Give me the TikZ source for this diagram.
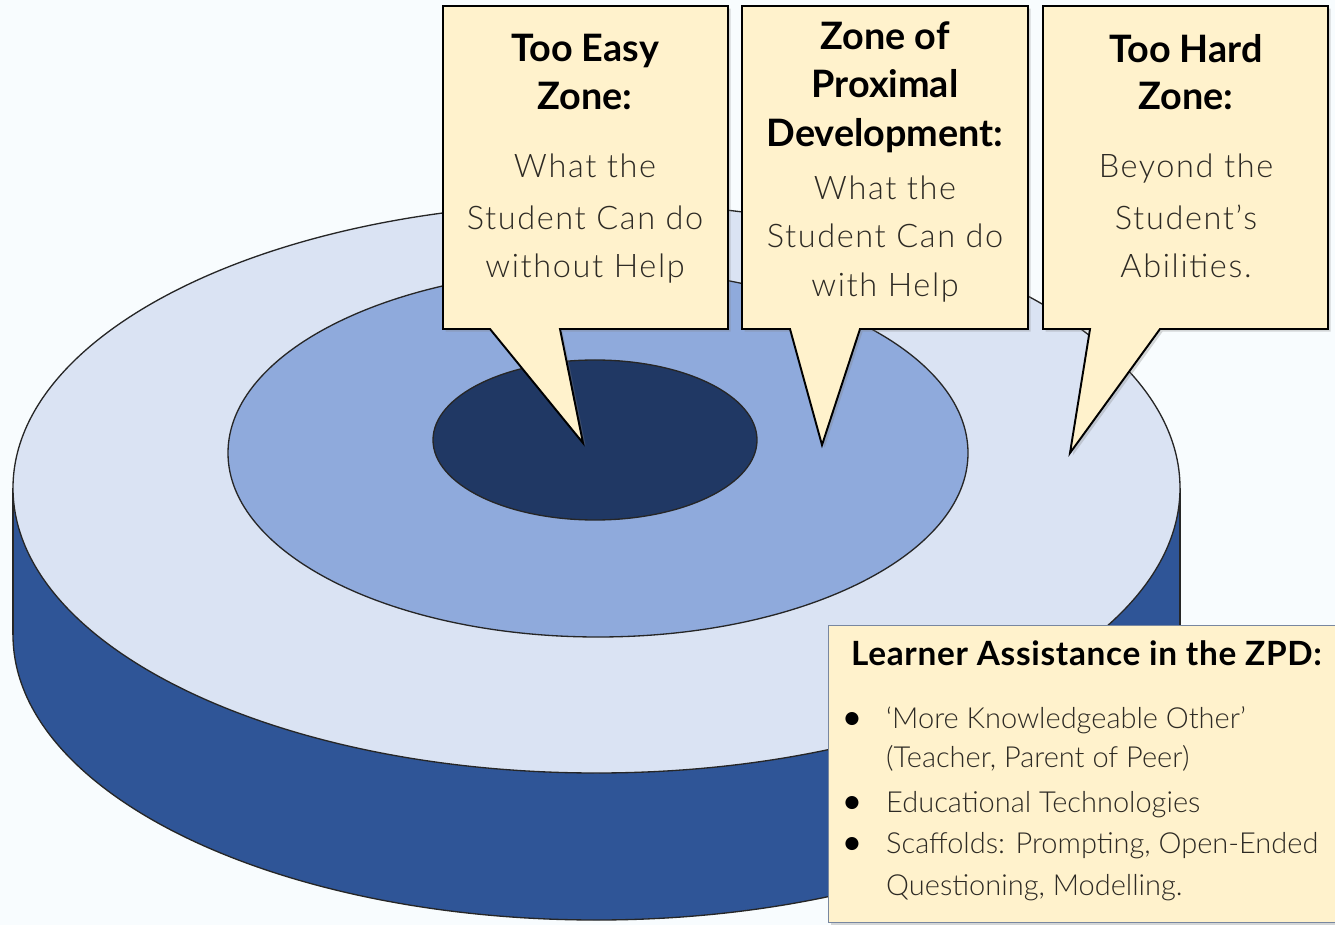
\documentclass[tikz,border=0pt]{standalone}
\usepackage{fontspec}
\setmainfont{Lato}
\newfontfamily\lightfont{Lato Light}[LetterSpace=5]
\newfontfamily\itemfont{Lato Light}
\newfontfamily\titlefont{Lato}[LetterSpace=2]
\usetikzlibrary{shadows}

\definecolor{paper}{RGB}{248,252,254}
\definecolor{ringlight}{RGB}{218,227,243}
\definecolor{ringmid}{RGB}{143,170,220}
\definecolor{ringdark}{RGB}{32,56,100}
\definecolor{sideblue}{RGB}{47,85,151}
\definecolor{cream}{RGB}{255,242,204}
\definecolor{bodygrey}{RGB}{45,42,36}
\definecolor{edgegrey}{RGB}{120,135,160}

\begin{document}
\begin{tikzpicture}[x=0.02cm, y=-0.02cm,
	disk/.style={draw=black!85, line width=0.75pt},
	callout/.style={draw=black, line width=1.1pt, fill=cream, line join=miter,
		drop shadow={shadow xshift=1.5pt, shadow yshift=-1.5pt, opacity=0.3}},
	head/.style={anchor=base, font=\fontsize{21.5}{26}\selectfont\bfseries},
	body/.style={anchor=base, font=\fontsize{18.5}{22}\lightfont, text=bodygrey},
	infobox/.style={draw=edgegrey, line width=0.8pt, fill=cream, anchor=north west,
		drop shadow={shadow xshift=1.5pt, shadow yshift=-1.5pt, opacity=0.3},
		minimum width=10.5cm, minimum height=5.94cm},
	item/.style={anchor=base west, font=\fontsize{16.5}{20}\itemfont, text=bodygrey},
	dot/.style={anchor=base, inner sep=0pt, font=\fontsize{20}{20}\selectfont}]

		% page
		\clip (0,0) rectangle (1335,925);
		\fill[paper] (0,0) rectangle (1335,925);

		% cylinder side
		\draw[disk, fill=sideblue] (596.5,635) ellipse [x radius=583.5, y radius=285];
		\fill[sideblue] (13,488) rectangle (1180,635);
		\foreach \x in {13,1180}
			\draw[disk] (\x,488) -- (\x,635);

		% rings on top
		\draw[disk, fill=ringlight] (596.5,488) ellipse [x radius=583.5, y radius=285];
		\draw[disk, fill=ringmid] (598,453) ellipse [x radius=370, y radius=184];
		\draw[disk, fill=ringdark] (595,440) ellipse [x radius=162, y radius=80];

		% callouts
		\foreach \l/\r/\bl/\br/\tx/\ty in {443/728/490/560/583/443,
			742/1028/790/860/822/445, 1043/1328/1090/1160/1070/453}
			\draw[callout] (\l,6) -- (\r,6) -- (\r,329) -- (\br,329) -- (\tx,\ty)
				-- (\bl,329) -- (\l,329) -- cycle;

		% too easy zone
		\foreach \t/\y [count=\i] in {Too Easy/62, Zone:/110}
			\node[head] (easy-head-\i) at (585,\y) {\t};
		\foreach \t/\y [count=\i] in {What the/178, Student Can do/230, without Help/278}
			\node[body] (easy-body-\i) at (585,\y) {\t};

		% zone of proximal development
		\foreach \t/\y [count=\i] in {Zone of/50, Proximal/98, Development:/147}
			\node[head] (zpd-head-\i) at (885,\y) {\t};
		\foreach \t/\y [count=\i] in {What the/200, Student Can do/248, with Help/297}
			\node[body] (zpd-body-\i) at (885,\y) {\t};

		% too hard zone
		\foreach \t/\y [count=\i] in {Too Hard/63, Zone:/110}
			\node[head] (hard-head-\i) at (1186,\y) {\t};
		\foreach \t/\y [count=\i] in {Beyond the/178, Student’s/230, Abilities./278}
			\node[body] (hard-body-\i) at (1186,\y) {\t};

		% learner assistance
		\node[infobox] (assist) at (828,625) {};
		\node[anchor=base west, font=\fontsize{19}{22}\titlefont\bfseries]
			(assist-title) at (845,665) {Learner Assistance in the ZPD:};
		\foreach \t/\y [count=\i] in {‘More Knowledgeable Other’/728,
			{(Teacher, Parent of Peer)}/767, Educational Technologies/812,
			{Scaffolds: Prompting, Open-Ended}/853, {Questioning, Modelling.}/895}
			\node[item] (assist-item-\i) at (880,\y) {\t};
		\foreach \y [count=\i] in {728,812,853}
			\node[dot] (assist-dot-\i) at (852,\y+1) {•};

\end{tikzpicture}
\end{document}
